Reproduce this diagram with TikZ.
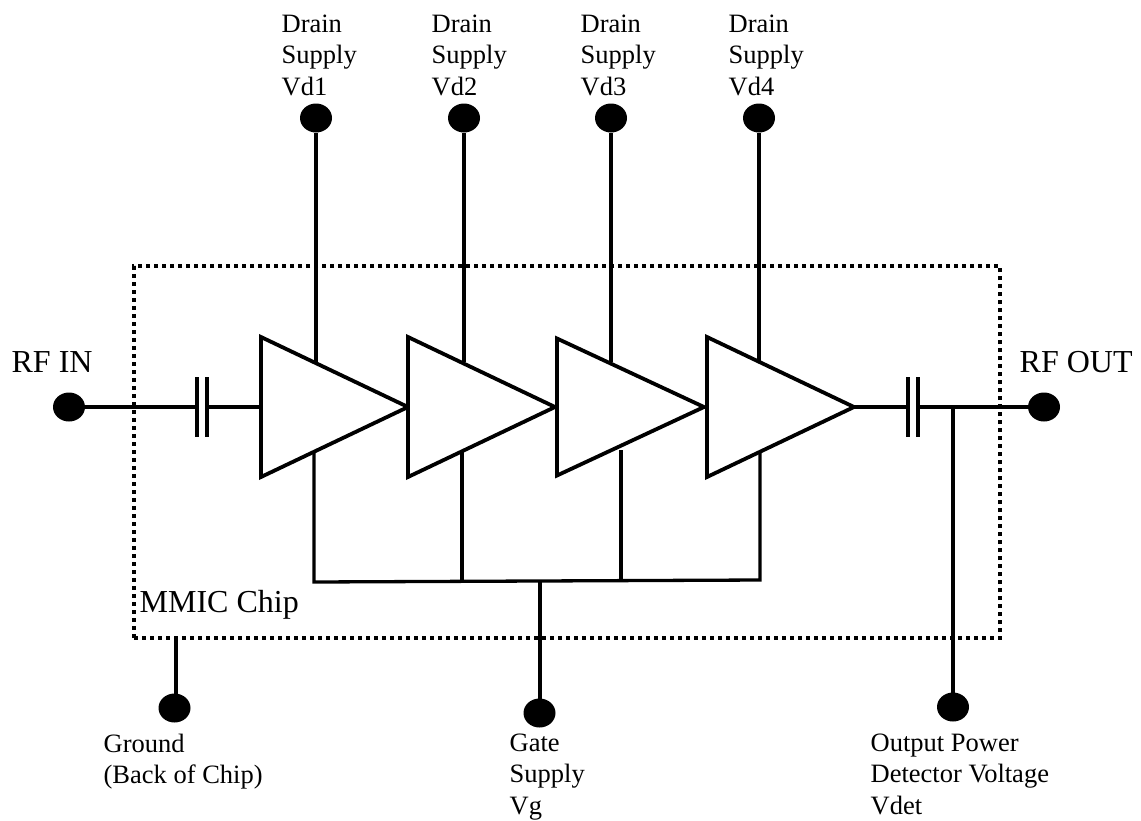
\documentclass[tikz,border=0pt]{standalone}
\usepackage{fontspec}
\setmainfont{Liberation Serif}
\usetikzlibrary{positioning, shapes.geometric, calc}

\begin{document}
\begin{tikzpicture}[
    x=0.5pt, y=-0.5pt, line width=1.65pt,
    chip/.style={rectangle, draw, line width=2pt, dash pattern=on 2pt off 2pt, inner sep=0, outer sep=0, minimum width=433pt, minimum height=186pt},
    amp/.style={isosceles triangle, isosceles triangle stretches, shape border rotate=0, draw, line width=1.9pt, anchor=apex, inner sep=0, outer sep=0, minimum width=70pt, minimum height=73.5pt, fill=white},
    pad/.style={ellipse, fill=black, inner sep=0, outer sep=0, minimum width=16pt, minimum height=14.5pt},
    plate/.style={line width=1.9pt},
    tag/.style={inner sep=0, anchor=north west, align=left, font=\fontsize{13.25}{15.7}\selectfont},
    bigtag/.style={inner sep=0, anchor=north west, font=\fontsize{16}{19}\selectfont}
]
\useasboundingbox (0,0) rectangle (1141,820);

% Chip outline
\node[chip] (mmic) at (567,452) {};
\node[bigtag] (mmicLabel) at (138,589) {MMIC Chip};

% Amplifiers
\node[amp] (amp1) at (408,407) {};
\node[amp] (amp2) at (555,407) {};
\node[amp, minimum width=68.5pt] (amp3) at (704,407) {};
\node[amp] (amp4) at (854,407) {};

% Pads
\node[pad] (rfin) at (69,407) {};
\node[pad] (rfout) at (1044,407) {};
\node[pad] (vd1) at (316,118) {};
\node[pad] (vd2) at (464,118) {};
\node[pad] (vd3) at (611,118) {};
\node[pad] (vd4) at (759,118) {};
\node[pad] (gnd) at (174.5,708) {};
\node[pad] (vg) at (539.5,713) {};
\node[pad] (vdet) at (953,707) {};

% Labels
\node[bigtag] (rfinLabel) at (10,350) {RF IN};
\node[bigtag] (rfoutLabel) at (1018,350) {RF OUT};
\node[tag] (vd1Label) at (280,13) {Drain\\Supply\\Vd1};
\node[tag] (vd2Label) at (430,13) {Drain\\Supply\\Vd2};
\node[tag] (vd3Label) at (579,13) {Drain\\Supply\\Vd3};
\node[tag] (vd4Label) at (727,13) {Drain\\Supply\\Vd4};
\node[tag] (gndLabel) at (102,732) {Ground\\(Back of Chip)};
\node[tag] (vgLabel) at (508,732) {Gate\\Supply\\Vg};
\node[tag] (vdetLabel) at (869,732) {Output Power\\Detector Voltage\\Vdet};

% Junctions
\coordinate (capInA) at (197,407);
\coordinate (capInB) at (207,407);
\coordinate (capOutA) at (908,407);
\coordinate (capOutB) at (918,407);
\coordinate (tapDet) at (953,407);
\coordinate (drain1) at (316,362);
\coordinate (drain2) at (464,362);
\coordinate (drain3) at (611,362);
\coordinate (drain4) at (759,362);
\coordinate (gate1) at (314,452);
\coordinate (gate2) at (462,452);
\coordinate (gate3) at (621,450);
\coordinate (gate4) at (760,452);
\coordinate (bus1) at (314,582);
\coordinate (bus2) at (462,581);
\coordinate (bus3) at (621,581);
\coordinate (bus4) at (760,580);
\coordinate (busVg) at (540,581);
\coordinate (chipGnd) at (176,638);

% Capacitors
\draw[plate] ($(capInA)+(0,-30)$) -- ($(capInA)+(0,30)$);
\draw[plate] ($(capInB)+(0,-30)$) -- ($(capInB)+(0,30)$);
\draw[plate] ($(capOutA)+(0,-30)$) -- ($(capOutA)+(0,30)$);
\draw[plate] ($(capOutB)+(0,-30)$) -- ($(capOutB)+(0,30)$);

% Wires
\draw (rfin) -- (capInA);
\draw (capInB) -- (261,407);
\draw (amp4.apex) -- (capOutA);
\draw (capOutB) -- (rfout);
\draw (tapDet) -- (vdet);
\draw (vd1) -- (drain1);
\draw (vd2) -- (drain2);
\draw (vd3) -- (drain3);
\draw (vd4) -- (drain4);
\draw (gate1) -- (bus1) -- (bus4) -- (gate4);
\draw (gate2) -- (bus2);
\draw (gate3) -- (bus3);
\draw (busVg) -- (busVg |- vg);
\draw (chipGnd) -- (chipGnd |- gnd);

\end{tikzpicture}
\end{document}
